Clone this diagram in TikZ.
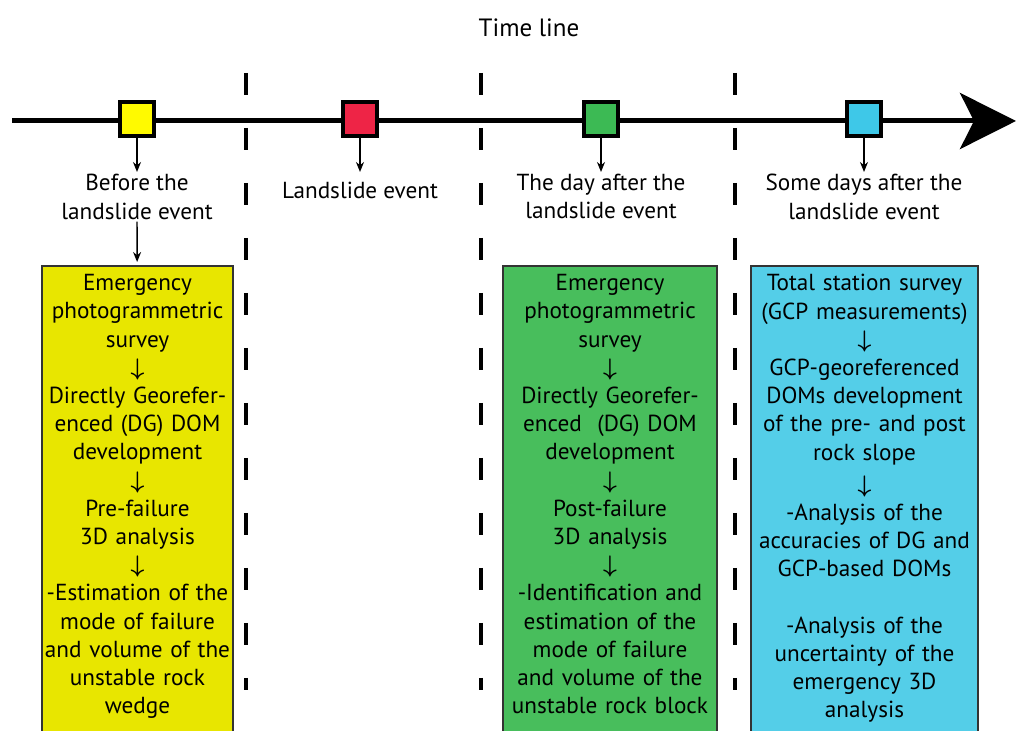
\documentclass[tikz,border=0pt]{standalone}
\usepackage{amsmath}
\usepackage{fontspec}
\setmainfont{PT Sans}
\usetikzlibrary{arrows.meta}

\definecolor{evyellow}{RGB}{255,250,0}
\definecolor{evred}{RGB}{238,36,70}
\definecolor{evgreen}{RGB}{60,186,84}
\definecolor{evcyan}{RGB}{62,200,232}
\definecolor{boxyellow}{RGB}{232,230,0}
\definecolor{boxgreen}{RGB}{72,190,92}
\definecolor{boxcyan}{RGB}{84,206,232}

\newcommand{\nxt}{$\boldsymbol{\downarrow}$}

\tikzset{
  evsq/.style={draw=black, line width=2pt, minimum size=17pt, inner sep=0pt},
  evlabel/.style={align=center, inner sep=1pt, anchor=north},
  tick/.style={-{Stealth[length=5pt,width=4pt]}, line width=0.7pt},
  panel/.style={draw=black!80, line width=0.8pt, anchor=north, minimum height=240pt},
  steps/.style={align=center, text width=#1, inner sep=0pt, anchor=north},
  sep/.style={line width=2pt, dash pattern=on 11pt off 16.5pt}
}

\begin{document}
\begin{tikzpicture}[x=0.5pt, y=-0.5pt, font=\fontsize{11.6}{14.1}\selectfont]
\useasboundingbox (0,0) rectangle (1018,731);

\node[font=\fontsize{12.5}{15}\selectfont] (title) at (529,28) {Time line};

% separators between the phases
\foreach \x in {246,481,735}
  \draw[sep] (\x,73) -- (\x,690);

% time axis
\coordinate (t0) at (12,121);
\coordinate (t1) at (1016,121);
\draw[line width=2.5pt, -{Stealth[length=28pt,width=28pt,inset=7pt]}] (t0) -- (t1);

% events on the axis
\node[evsq, fill=evyellow] (before) at (137,119) {};
\node[evsq, fill=evred] (event) at (360,119) {};
\node[evsq, fill=evgreen] (dayafter) at (601,119) {};
\node[evsq, fill=evcyan] (daysafter) at (864,119) {};

\node[evlabel] (beforelab) at (137,172) {Before the\\landslide event};
\node[evlabel] (eventlab) at (360,180) {Landslide event};
\node[evlabel] (dayafterlab) at (601,172) {The day after the\\landslide event};
\node[evlabel] (daysafterlab) at (864,172) {Some days after the\\landslide event};

\draw[tick] (before) -- (beforelab);
\draw[tick, shorten >=4pt] (event) -- (eventlab);
\draw[tick] (dayafter) -- (dayafterlab);
\draw[tick] (daysafter) -- (daysafterlab);

% work done in each phase
\node[panel, fill=boxyellow, minimum width=95.5pt] (prebox) at (137.5,265) {};
\node[panel, fill=boxgreen, minimum width=107pt] (postbox) at (610,265) {};
\node[panel, fill=boxcyan, minimum width=113.5pt] (gcpbox) at (864.5,265) {};

\draw[tick, shorten >=1.5pt] (beforelab) -- (prebox);

\node[steps=95pt] (pre) at ([yshift=-4.5pt]prebox.north)
  {Emergency\\photogrammetric\\survey\\\nxt\\Directly Georefer-\\enced (DG) DOM\\development\\\nxt\\Pre-failure\\3D analysis\\\nxt\\-Estimation of the\\mode of failure\\and volume of the\\unstable rock\\wedge};
\node[steps=106pt] (post) at ([yshift=-4.5pt]postbox.north)
  {Emergency\\photogrammetric\\survey\\\nxt\\Directly Georefer-\\enced\ \ (DG) DOM\\development\\\nxt\\Post-failure\\3D analysis\\\nxt\\-Identification and\\estimation of the\\mode of failure\\and volume of the\\unstable rock block};
\node[steps=112pt] (gcp) at ([yshift=-4.5pt]gcpbox.north)
  {Total station survey\\(GCP measurements)\\\nxt\\GCP-georeferenced\\DOMs development\\of the pre- and post\\rock slope\\[2pt]\nxt\\-Analysis of the\\accuracies of DG and\\GCP-based DOMs\\[14.1pt]-Analysis of the\\uncertainty of the\\emergency 3D\\analysis};
\end{tikzpicture}
\end{document}
